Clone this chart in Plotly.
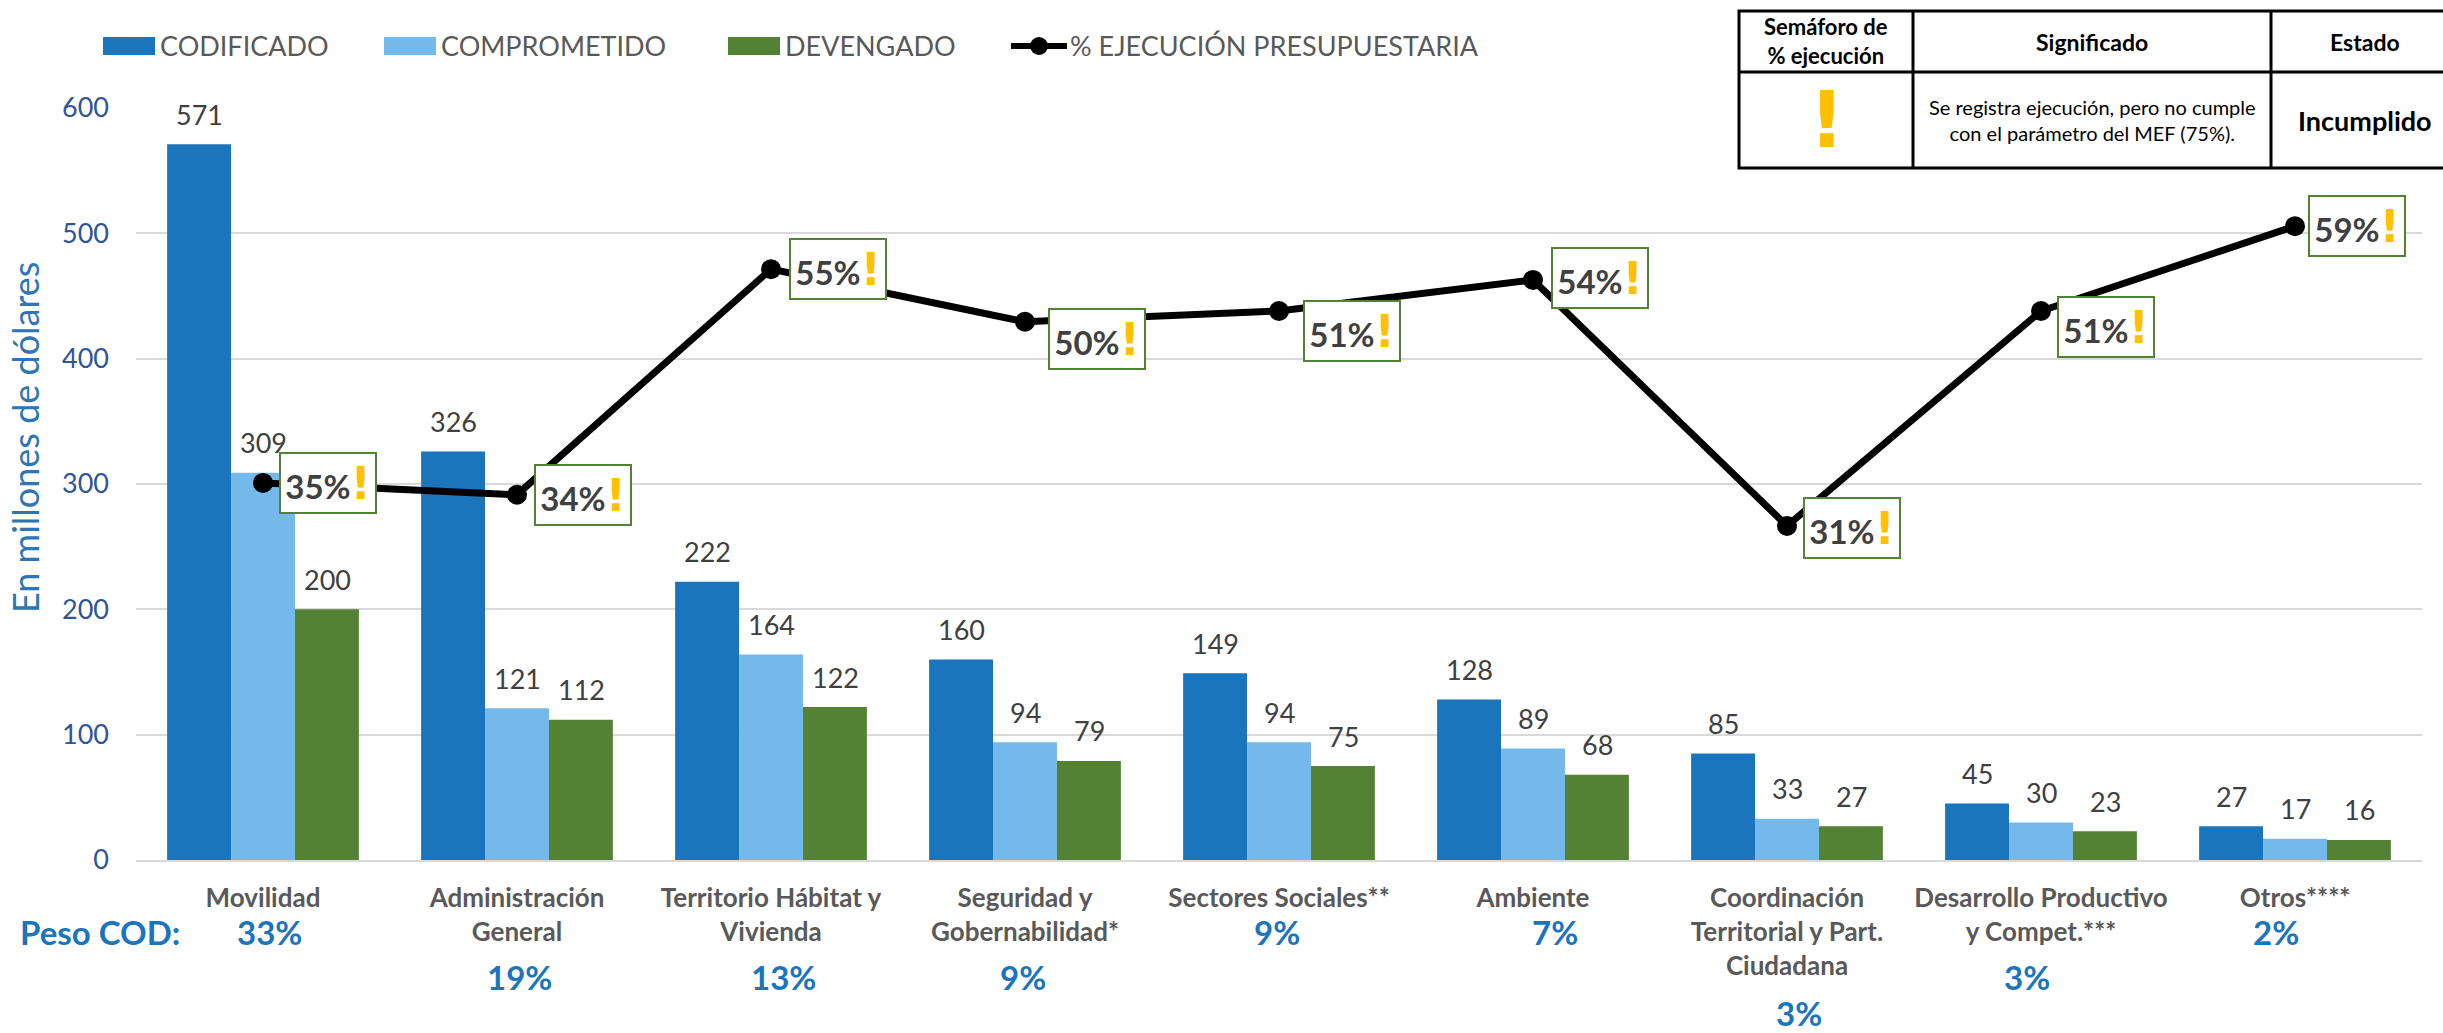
import plotly.graph_objects as go

categories = ["Movilidad", "Administración<br>General", "Territorio Hábitat y<br>Vivienda",
              "Seguridad y<br>Gobernabilidad*", "Sectores Sociales**", "Ambiente",
              "Coordinación<br>Territorial y Part.<br>Ciudadana",
              "Desarrollo Productivo<br>y Compet.***", "Otros****"]
codificado = [571, 326, 222, 160, 149, 128, 85, 45, 27]
comprometido = [309, 121, 164, 94, 94, 89, 33, 30, 17]
devengado = [200, 112, 122, 79, 75, 68, 27, 23, 16]
ejecucion = [35.1, 34.0, 55.0, 50.1, 51.1, 54.0, 31.1, 51.1, 59.0]
ejecucion_labels = ["35%", "34%", "55%", "50%", "51%", "54%", "31%", "51%", "59%"]
peso_labels = ["33%", "19%", "13%", "9%", "9%", "7%", "3%", "3%", "2%"]

BLUE, LIGHT, GREEN = "#1A75BC", "#74B9E9", "#548235"
FONT = "Lato"
W, H = 2443, 1033
L, R, T, B = 136, 2422, 108, 860


def px(x):
    return (x - L) / (R - L)


def py(y):
    return (B - y) / (B - T)


fig = go.Figure()
for name, vals, col in [("CODIFICADO", codificado, BLUE), ("COMPROMETIDO", comprometido, LIGHT),
                        ("DEVENGADO", devengado, GREEN)]:
    fig.add_bar(x=categories, y=vals, name=name, marker_color=col, marker_line_width=0, showlegend=False)
fig.add_scatter(x=categories, y=ejecucion, yaxis="y2", mode="lines+markers", name="% EJECUCIÓN PRESUPUESTARIA",
                line=dict(color="black", width=7), marker=dict(color="black", size=20), showlegend=False)

anns, shapes = [], []


def text(x, y, s, size, color, bold=False, anchor="center", family=FONT):
    anns.append(dict(x=px(x), y=py(y), xref="paper", yref="paper", text=f"<b>{s}</b>" if bold else s,
                     showarrow=False, xanchor=anchor, yanchor="middle",
                     font=dict(family=family, size=size, color=color)))


# bar value labels
for vals, shift in [(codificado, -64), (comprometido, 0), (devengado, 64)]:
    for c, v in zip(categories, vals):
        anns.append(dict(x=c, y=v, xref="x", yref="y", text=str(v), showarrow=False, xshift=shift, yshift=30,
                         xanchor="center", yanchor="middle", font=dict(family=FONT, size=27, color="#404040")))

# execution labels
offs = [(65, 0), (66, 0), (67, 0), (72, 17), (73, 20), (67, -2), (65, 2), (65, 16), (62, 0)]
for c, v, t, (dx, dy) in zip(categories, ejecucion, ejecucion_labels, offs):
    anns.append(dict(x=c, y=v, xref="x", yref="y2", showarrow=False, xshift=dx, yshift=-dy,
                     text=f'<b>{t}<span style="color:#FFC000;font-family:DejaVu Sans;font-size:44px">!</span></b>',
                     xanchor="center", yanchor="middle", align="center", width=94, height=58,
                     bgcolor="white", bordercolor=GREEN, borderwidth=2,
                     borderpad=0, font=dict(family=FONT, size=33, color="#404040")))

# peso COD
peso_dx = [6, 2, 12, -2, -2, 22, 12, -14, -19]
peso_y = [932, 977, 977, 977, 932, 932, 1013, 977, 932]
for c, t, dx, y in zip(categories, peso_labels, peso_dx, peso_y):
    anns.append(dict(x=c, y=py(y), xref="x", yref="paper", xshift=dx, text=f"<b>{t}</b>", showarrow=False,
                     xanchor="center", yanchor="middle", font=dict(family=FONT, size=33, color=BLUE)))
text(18, 932, "<b>Peso COD:</b>", 33, BLUE, anchor="left")

# axis title
anns.append(dict(x=px(25), y=py(438), xref="paper", yref="paper", text="En millones de dólares", textangle=-90,
                 showarrow=False, xanchor="center", yanchor="middle",
                 font=dict(family=FONT, size=36, color="#2E75B6")))

# legend
for x0, label in [(103, "CODIFICADO"), (384, "COMPROMETIDO"), (728, "DEVENGADO")]:
    col = {"CODIFICADO": BLUE, "COMPROMETIDO": LIGHT, "DEVENGADO": GREEN}[label]
    shapes.append(dict(type="rect", xref="paper", yref="paper", x0=px(x0), x1=px(x0 + 52), y0=py(37), y1=py(55),
                       fillcolor=col, line_width=0))
    text(x0 + 55, 45, label, 27, "#595959", anchor="left")
shapes.append(dict(type="line", xref="paper", yref="paper", x0=px(1011), x1=px(1067), y0=py(46), y1=py(46),
                   line=dict(color="black", width=6)))
shapes.append(dict(type="circle", xref="paper", yref="paper", x0=px(1030), x1=px(1048), y0=py(37), y1=py(55),
                   fillcolor="black", line_width=0))
text(1068, 45, "% EJECUCIÓN PRESUPUESTARIA", 27, "#595959", anchor="left")

# table
TX0, TX1, TX2, TX3 = 1739, 1913, 2271, 2443
TY0, TY1, TY2 = 11, 72, 168
shapes.append(dict(type="rect", xref="paper", yref="paper", x0=px(TX0), x1=px(TX3 + 5), y0=py(TY0), y1=py(TY2),
                   fillcolor="white", line=dict(color="black", width=3)))
for x in (TX1, TX2):
    shapes.append(dict(type="line", xref="paper", yref="paper", x0=px(x), x1=px(x), y0=py(TY0), y1=py(TY2),
                       line=dict(color="black", width=3)))
shapes.append(dict(type="line", xref="paper", yref="paper", x0=px(TX0), x1=px(TX3), y0=py(TY1), y1=py(TY1),
                   line=dict(color="black", width=3)))
text(1826, 41, "Semáforo de<br>% ejecución", 22, "black", True)
text(2092, 42, "Significado", 23, "black", True)
text(2365, 42, "Estado", 23, "black", True)
text(1827, 120, "!", 78, "#FFC000", True, family="DejaVu Sans")
text(2092, 120, "Se registra ejecución, pero no cumple<br>con el parámetro del MEF (75%).", 20, "black")
text(2365, 121, "Incumplido", 27, "black", True)

fig.update_layout(
    width=W, height=H, autosize=False, barmode="group", bargap=0.245, bargroupgap=0,
    margin=dict(l=L, r=W - R, t=T, b=H - B, autoexpand=False),
    paper_bgcolor="white", plot_bgcolor="white",
    font=dict(family=FONT), annotations=anns, shapes=shapes,
    xaxis=dict(tickfont=dict(family=FONT, size=26, color="#595959"), ticks="", showline=True,
               linecolor="#D9D9D9", linewidth=2, tickprefix="<b>", ticksuffix="</b>", ticklabelstandoff=14),
    yaxis=dict(range=[0, 600], dtick=100, gridcolor="#D9D9D9", gridwidth=2, zeroline=False,
               tickfont=dict(family=FONT, size=27, color="#2F5597"), ticks="", ticklabelstandoff=26),
    yaxis2=dict(overlaying="y", side="right", range=[0, 70], visible=False),
)
fig.write_html("out.html", config=dict(displayModeBar=False), post_script="document.body.style.margin='0';")
